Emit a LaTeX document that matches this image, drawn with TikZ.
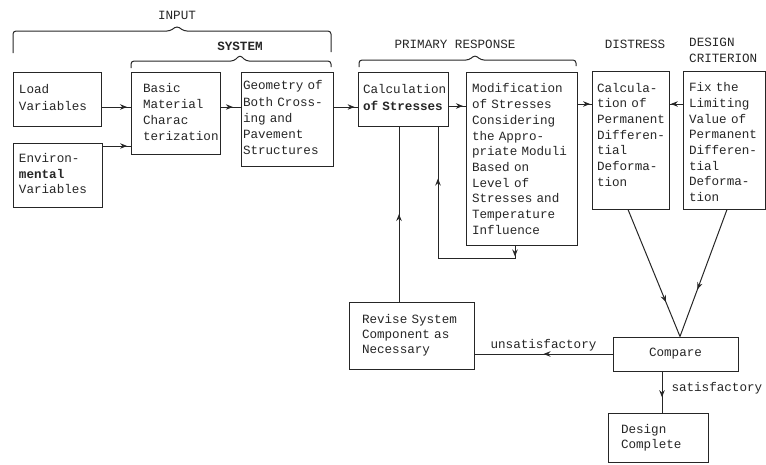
\documentclass[tikz,border=0pt]{standalone}
\usepackage{fontspec}
\setmonofont{Liberation Mono}
\usetikzlibrary{arrows.meta,decorations.markings,calc}
% stacked lines of a box, left aligned, never broken
\newcommand\tlines[1]{\begin{tabular}{@{}l@{}}#1\end{tabular}}

\tikzset{
  ink/.style={draw=black!85, text=black!85},
  tt/.style={font=\ttfamily\fontsize{12.6}{#1}\selectfont},
  tt/.default=16,
  box/.style={ink, draw, line width=1pt, inner ysep=0pt, align=left},
  lbl/.style={text=black!85, tt, inner sep=1pt},
  wire/.style={draw=black!85, line width=1pt},
  % arrow head placed along a connector
  flow/.style={wire, postaction={decorate},
    decoration={markings, mark=at position #1 with {\arrow{Stealth[length=7pt,width=5.5pt]}}}},
  curlybrace/.style={draw=black!85, line width=1pt, rounded corners=3pt},
}

\begin{document}
\begin{tikzpicture}[x=1pt, y=-1pt]
\useasboundingbox (0,0) rectangle (766,464);

% ---- input side ----
\node[box, tt=17, text width=76pt, inner xsep=6pt, minimum height=54pt] (load) at (57,99)
  {\tlines{Load\\Variables}};
\node[box, tt=15.7, text width=77pt, inner xsep=6pt, minimum height=64pt] (env) at (57.5,175)
  {\tlines{Environ-\\\textbf{mental}\\Variables}};
\node[box, tt, text width=65pt, inner xsep=12pt, minimum height=82pt] (basic) at (175.5,113)
  {\tlines{Basic\\Material\\Charac\\terization}};
\node[box, tt=16.25, text width=88pt, inner xsep=2pt, minimum height=94pt] (geom) at (287,119)
  {\tlines{Geometry of\\Both Cross-\\ing and\\Pavement\\Structures}};

% ---- primary response ----
\node[box, tt=17, text width=80pt, inner xsep=5pt, minimum height=54pt] (calc) at (403,99)
  {\tlines{Calculation\\\textbf{of Stresses}}};
\node[box, tt=15.7, text width=99pt, inner xsep=6pt, minimum height=173pt] (mod) at (521.5,158.5)
  {\tlines{Modification\\of Stresses\\Considering\\the Appro-\\priate Moduli\\Based on\\Level of\\Stresses and\\Temperature\\Influence}\par\vspace{-4pt}};

% ---- distress and criterion ----
\node[box, tt=15.7, text width=67pt, inner xsep=5pt, minimum height=138pt] (perm) at (630.5,140)
  {\tlines{Calcula-\\tion of\\Permanent\\Differen-\\tial\\Deforma-\\tion}\par\vspace{8pt}};
\node[box, tt=15.7, text width=70pt, inner xsep=6pt, minimum height=138pt] (fix) at (724,140)
  {\tlines{Fix the\\Limiting\\Value of\\Permanent\\Differen-\\tial\\Deforma-\\tion}\par\vspace{-7pt}};

% ---- decision ----
\node[box, tt, align=center, minimum width=125pt, minimum height=34pt] (cmp) at (675.5,354)
  {Compare};
\node[box, tt=15, text width=99pt, inner xsep=13pt, minimum height=67pt] (revise) at (411.5,335.5)
  {\tlines{Revise System\\Component as\\Necessary}};
\node[box, tt=15.7, text width=74pt, inner xsep=13pt, minimum height=49pt] (done) at (658,438)
  {\tlines{Design\\Complete}};

% ---- group headings ----
\node[lbl] (tinput) at (177,15) {INPUT};
\node[lbl, font=\ttfamily\bfseries\fontsize{12.6}{16}\selectfont] (tsystem) at (240,46) {SYSTEM};
\node[lbl] (tprimary) at (455,44) {PRIMARY RESPONSE};
\node[lbl] (tdistress) at (635,44) {DISTRESS};
\node[lbl, align=left, anchor=west, tt=15.5] (tcrit) at (688,50.5) {DESIGN\\CRITERION};

% ---- braces ----
\draw[curlybrace] (13,53) -- (13,31) -- (170,31) -- (177,26) -- (184,31) -- (331,31) -- (331,52);
\draw[curlybrace] (131,68) -- (131,61) -- (234,61) -- (240,55) -- (246,61) -- (331,61) -- (331,67);
\draw[curlybrace] (359,67) -- (359,60) -- (469,60) -- (475,55) -- (481,60) -- (576,60) -- (576,66);

% ---- forward connectors ----
\draw[flow=0.88] ($(load.east)+(0,8)$) -- ($(basic.west)+(0,-6)$);
\draw[flow=0.88] ($(env.east)+(0,-29)$) -- ($(basic.west)+(0,33)$);
\draw[flow=0.62] ($(basic.east)+(0,-6)$) -- ($(geom.west)+(0,-12)$);
\draw[flow=0.88] ($(geom.east)+(0,-12)$) -- ($(calc.west)+(0,8)$);
\draw[flow=0.85] ($(calc.east)+(0,7)$) -- ($(mod.west)+(0,-52.5)$);
\draw[flow=0.9] ($(mod.east)+(0,-54.5)$) -- ($(perm.west)+(0,-36)$);
\draw[flow=0.9] ($(fix.west)+(0,-36)$) -- ($(perm.east)+(0,-36)$);

% stress level iteration loop
\draw[wire, postaction={decorate}, decoration={markings,
    mark=at position 11pt with {\arrow{Stealth[length=7pt,width=5.5pt]}},
    mark=at position 170pt with {\arrow{Stealth[length=7pt,width=5.5pt]}}}]
  ($(mod.south)+(-6.5,0)$) -- ++(0,13) -| ($(calc.south)+(35,0)$);

% revision feeds back into the stress calculation
\draw[flow=0.5] ($(revise.north)+(-12.5,0)$) -- ($(calc.south)+(-4,0)$);

% distress and criterion meet in the comparison
\draw[flow=0.73] ($(perm.south)+(-2.5,0)$) -- ($(cmp.north)+(4.5,0)$);
\draw[flow=0.63] ($(fix.south)+(3,0)$) -- ($(cmp.north)+(4.5,0)$);

% outcomes
\draw[flow=0.5] (cmp.west) -- node[lbl, above=1pt] (tunsat) {unsatisfactory} ($(revise.east)+(0,18.5)$);
\draw[flow=0.62] ($(cmp.south)+(-13.5,0)$) -- node[lbl, right=8pt, pos=0.4] (tsat) {satisfactory} ($(done.north)+(4,0)$);
\end{tikzpicture}
\end{document}
